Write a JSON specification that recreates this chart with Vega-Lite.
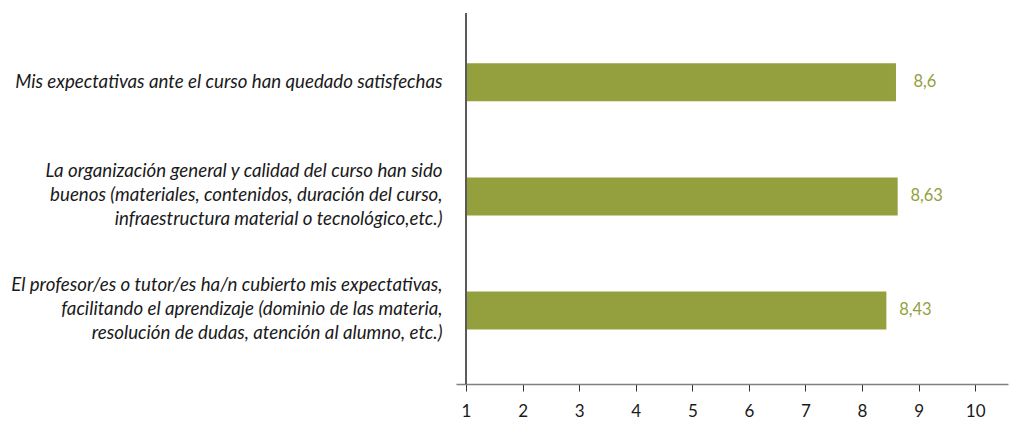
{
  "$schema": "https://vega.github.io/schema/vega-lite/v6.json",
  "autosize": {"type": "none"},
  "padding": {"left": 456, "top": 13, "right": 3, "bottom": 37},
  "width": 552,
  "height": 371,
  "background": "white",
  "config": {
    "view": {"stroke": null},
    "font": "Lato",
    "locale": {"number": {"decimal": ",", "thousands": ".", "grouping": [3], "currency": ["", " €"]}}
  },
  "data": {
    "values": [
      {"pregunta": "Mis expectativas ante el curso han quedado satisfechas", "valor": 8.6},
      {"pregunta": "La organización general y calidad del curso han sido|buenos (materiales, contenidos, duración del curso,|infraestructura material o tecnológico,etc.)", "valor": 8.63},
      {"pregunta": "El profesor/es o tutor/es ha/n cubierto mis expectativas,|facilitando el aprendizaje (dominio de las materia,|resolución de dudas, atención al alumno, etc.)", "valor": 8.43}
    ]
  },
  "layer": [
    {
      "mark": {"type": "bar", "color": "#93a03d"},
      "encoding": {
        "y": {
          "field": "pregunta",
          "type": "nominal",
          "sort": null,
          "scale": {"paddingInner": 0.667, "paddingOuter": 0.46, "align": 0.48},
          "axis": {
            "title": null,
            "domain": false,
            "ticks": false,
            "labelPadding": 14,
            "labelFont": "Lato",
            "labelFontSize": 18.7,
            "labelFontStyle": "italic",
            "labelColor": "#1a1a1a",
            "labelLimit": 600,
            "labelLineHeight": 24,
            "labelOffset": {"condition": {"test": "indexof(datum.value, '|') >= 0", "value": -25}, "value": 0},
            "labelExpr": "split(datum.label, '|')"
          }
        },
        "x": {
          "field": "valor",
          "type": "quantitative",
          "scale": {"domain": [0.823, 10.58], "nice": false, "zero": false},
          "axis": {
            "title": null,
            "values": [1, 2, 3, 4, 5, 6, 7, 8, 9, 10],
            "format": "d",
            "grid": false,
            "domainColor": "#808080",
            "domainWidth": 1.5,
            "tickColor": "#333333",
            "tickSize": 7,
            "labelPadding": 12,
            "labelFont": "Lato",
            "labelFontSize": 17,
            "labelColor": "#1a1a1a"
          }
        },
        "x2": {"datum": 1}
      }
    },
    {
      "mark": {"type": "text", "align": "center", "baseline": "middle", "dx": 29, "font": "Lato", "fontSize": 16.5, "color": "#93a03d"},
      "encoding": {
        "y": {"field": "pregunta", "type": "nominal", "sort": null},
        "x": {"field": "valor", "type": "quantitative"},
        "text": {"field": "valor", "type": "quantitative", "format": ".3~g"}
      }
    },
    {
      "mark": {"type": "rule", "color": "#595959", "strokeWidth": 1.5},
      "encoding": {"x": {"datum": 1}}
    }
  ]
}
